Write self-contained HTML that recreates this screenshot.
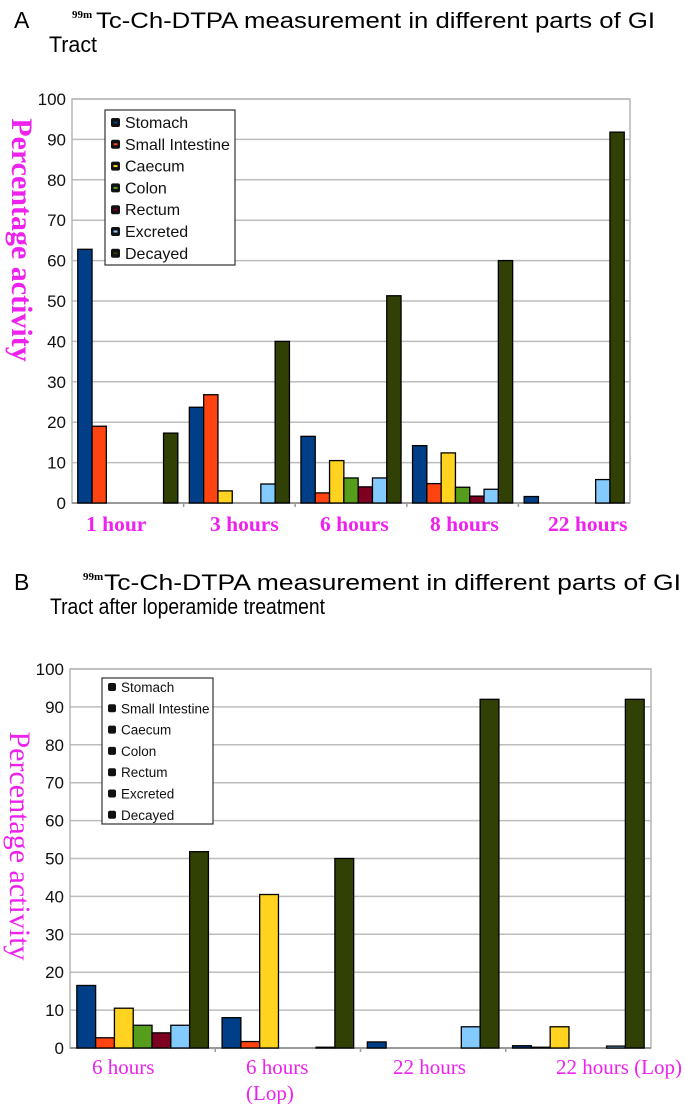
<!DOCTYPE html>
<html><head><meta charset="utf-8">
<style>
html,body{margin:0;padding:0;background:#fff;}
svg{display:block;}
</style></head>
<body>
<svg id="root" width="685" height="1104" viewBox="0 0 685 1104" xmlns="http://www.w3.org/2000/svg">
  <text x="14" y="28" font-family="Liberation Sans, sans-serif" font-size="23">A</text>
  <text x="72" y="18" font-family="Liberation Serif, serif" font-size="11" font-weight="bold">99m</text>
  <text x="96" y="28" font-family="Liberation Sans, sans-serif" font-size="22" textLength="559" lengthAdjust="spacingAndGlyphs">Tc-Ch-DTPA measurement in different parts of GI</text>
  <text x="49" y="52" font-family="Liberation Sans, sans-serif" font-size="22" textLength="48" lengthAdjust="spacingAndGlyphs">Tract</text>
  <text x="14" y="590" font-family="Liberation Sans, sans-serif" font-size="23">B</text>
  <text x="83" y="580" font-family="Liberation Serif, serif" font-size="11" font-weight="bold">99m</text>
  <text x="104" y="590" font-family="Liberation Sans, sans-serif" font-size="22" textLength="577" lengthAdjust="spacingAndGlyphs">Tc-Ch-DTPA measurement in different parts of GI</text>
  <text x="50" y="614" font-family="Liberation Sans, sans-serif" font-size="22" textLength="275" lengthAdjust="spacingAndGlyphs">Tract after loperamide treatment</text>
  <g id="chartA"></g>
  <g id="chartB"></g>
</svg>
<script>
const seriesNames = ["Stomach","Small Intestine","Caecum","Colon","Rectum","Excreted","Decayed"];
const seriesColors = ["#003F87","#FF4411","#FFD320","#579D1C","#7E0021","#83CAFF","#314004"];
const yTicks = [0,10,20,30,40,50,60,70,80,90,100];
const catsA = [["1 hour"],["3 hours"],["6 hours"],["8 hours"],["22 hours"]];
const stomachA = [62.8,23.7,16.5,14.2,1.6];
const smallIntA = [19,26.8,2.5,4.8,0];
const caecumA = [0,3,10.5,12.4,0];
const colonA = [0,0,6.2,3.9,0];
const rectumA = [0,0,4,1.7,0];
const excretedA = [0,4.7,6.2,3.4,5.8];
const decayedA = [17.3,40,51.3,60,91.8];
const catsB = [["6 hours"],["6 hours","(Lop)"],["22 hours"],["22 hours (Lop)"]];
const stomachB = [16.5,8,1.6,0.6];
const smallIntB = [2.7,1.7,0,0.2];
const caecumB = [10.5,40.5,0,5.6];
const colonB = [6,0,0,0];
const rectumB = [4,0,0,0];
const excretedB = [6,0.2,5.6,0.5];
const decayedB = [51.8,50,92,92];

const NS = "http://www.w3.org/2000/svg";
function mk(parent, tag, attrs, text){
  const e = document.createElementNS(NS, tag);
  for (const k in attrs) e.setAttribute(k, attrs[k]);
  if (text !== undefined) e.textContent = text;
  parent.appendChild(e);
  return e;
}

function drawChart(g, cfg, cats, series){
  const {x0,x1,y0,y1,bw,bold,labelY,labelX,labelFs,ylab,legend,lab2dy} = cfg;
  const yScale = v => y0 - (v/100)*(y0-y1);
  const cw = (x1-x0)/cats.length;
  yTicks.forEach(t=>{
    const y = yScale(t);
    if (t>0){
      const l = mk(g,'line',{x1:x0,x2:x1,y1:y,y2:y,stroke:'#bdbdbd','stroke-width':1.5});
      
      
    }
    const tx = mk(g,'text',{x:x0-6,y:y+6,'text-anchor':'end','font-family':'Liberation Sans, sans-serif','font-size':17,fill:'#111'}, String(t));
    
    
  });
  const fr = mk(g,'rect',{x:x0,y:y1,width:x1-x0,height:y0-y1,fill:'none',stroke:'#b5b5b5','stroke-width':1.5});
  
  
  const ax = mk(g,'line',{x1:x0,x2:x1,y1:y0,y2:y0,stroke:'#999','stroke-width':2});
  
  
  for (let i=1;i<cats.length;i++){
    const tk = mk(g,'line',{x1:x0+i*cw,x2:x0+i*cw,y1:y0,y2:y0+4,stroke:'#999','stroke-width':1.5});
    
    
  }
  cats.forEach((c,i)=>{
    const start = x0 + i*cw + (cw - bw*series.length)/2;
    series.forEach((s,j)=>{
      const v = s[i];
      if (v<=0) return;
      const y = yScale(v);
      const r = mk(g,'rect',{x:start+j*bw,y:y,width:bw,height:y0-y,fill:seriesColors[j],stroke:'#000','stroke-width':1.3});
      
      
    });
    c.forEach((line,k)=>{
      const t = mk(g,'text',{x:labelX[i],y:labelY+k*lab2dy,'font-family':'Liberation Serif, serif','font-size':labelFs,'font-weight':bold?'bold':'normal',fill:'#EE22EE'}, line);
      
      
    });
  });
  const yl = mk(g,'text',{x:0,y:0,transform:`translate(${ylab.x},${ylab.y}) rotate(90)`,'text-anchor':'middle','font-family':'Liberation Serif, serif','font-size':ylab.size,'font-weight':bold?'bold':'normal',fill:'#EE22EE'}, 'Percentage activity');
  
  
  const lg = mk(g,'g',{});
  
  
  const lb = mk(lg,'rect',{x:legend.x,y:legend.y,width:legend.w,height:legend.h,fill:'#fff',stroke:'#333','stroke-width':1.2});
  
  
  seriesNames.forEach((n,j)=>{
    const yy = legend.y + legend.pad + j*legend.step;
    const sw = mk(lg,'rect',{x:legend.x+6,y:yy-legend.sq+2,width:legend.sq,height:legend.sq,rx:2,fill:'#111'});
    
    
    if (legend.inner){
      const inn = mk(lg,'rect',{x:legend.x+8.5,y:yy-legend.sq/2+1,width:legend.sq-5,height:2,fill:seriesColors[j]});
      
      
    }
    const t = mk(lg,'text',{x:legend.x+6+legend.sq+5,y:yy+3,'font-family':'Liberation Sans, sans-serif','font-size':legend.fs,fill:'#111'}, n);
    
    
  });
}

drawChart(document.getElementById('chartA'),
  {x0:72,x1:630,y0:503,y1:99,bw:14.3,bold:true,labelY:531,lab2dy:0,labelFs:21.5,
   labelX:[86,210,320,430,548],
   ylab:{x:12,y:240,size:30},
   legend:{x:105,y:110,w:130,h:155,pad:15,step:21.8,sq:9,fs:16,inner:true}},
  catsA,[stomachA,smallIntA,caecumA,colonA,rectumA,excretedA,decayedA]);

drawChart(document.getElementById('chartB'),
  {x0:70,x1:651,y0:1048,y1:669,bw:18.8,bold:false,labelY:1074,lab2dy:26,labelFs:21,
   labelX:[92,246,393,556],
   ylab:{x:10,y:846,size:30},
   legend:{x:102,y:678,w:111,h:146,pad:11,step:21.3,sq:8,fs:13.5,inner:false}},
  catsB,[stomachB,smallIntB,caecumB,colonB,rectumB,excretedB,decayedB]);
</script>
</body></html>
